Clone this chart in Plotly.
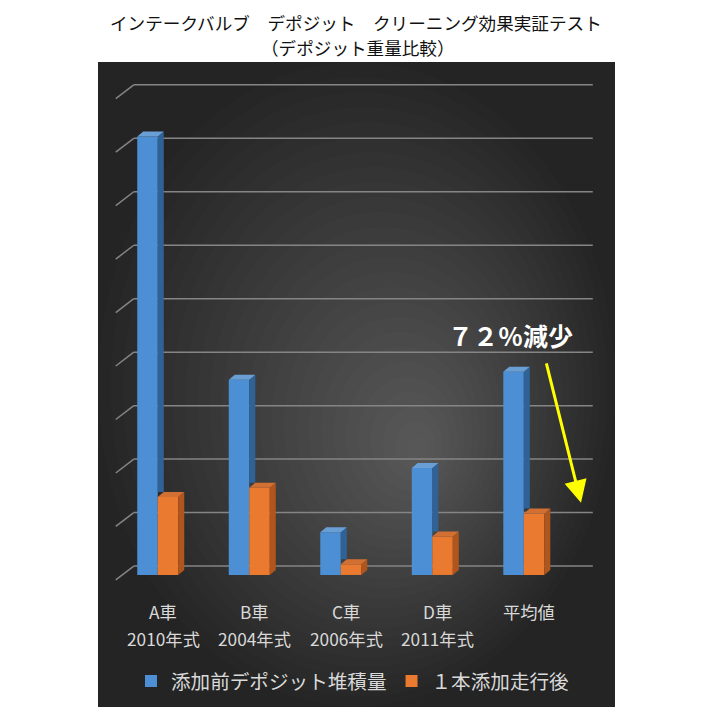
import plotly.graph_objects as go

# data
car_names = ["A車", "B車", "C車", "D車", "平均値"]
car_years = ["2010年式", "2004年式", "2006年式", "2011年式", ""]
before_vals = [8.2, 3.65, 0.8, 2.0, 3.8]
after_vals = [1.46, 1.63, 0.2, 0.72, 1.15]
grid_vals = list(range(10))

series_names = ["添加前デポジット堆積量", "１本添加走行後"]
title_lines = ["インテークバルブ　デポジット　クリーニング効果実証テスト", "（デポジット重量比較）"]
note_text = "７２％減少"

# page geometry (pixels); the page body adds an 8px margin around the figure
OFF = 8
FIG_W, FIG_H = 713 - OFF, 713 - OFF
M_L, M_T = 104, 59
PLOT_W, PLOT_H = 485, 529
M_R = FIG_W - M_L - PLOT_W
M_B = FIG_H - M_T - PLOT_H
X_RANGE = [-0.5, 4.8]
Y_RANGE = [-0.3, 9.5]
PX_X = PLOT_W / (X_RANGE[1] - X_RANGE[0])
PX_Y = PLOT_H / (Y_RANGE[1] - Y_RANGE[0])


def paper_x(px):
    return (px - OFF - M_L) / PLOT_W


def paper_y(py):
    return (FIG_H - M_B - (py - OFF)) / PLOT_H


BAR_W = 20.5 / PX_X
DEPTH_X = 6 / PX_X
DEPTH_Y = 5 / PX_Y

BLUE = {"front": "#4d8fd4", "side": "#2f6398", "top": "#6a9fd6"}
ORANGE = {"front": "#ea7a30", "side": "#b0561d", "top": "#d27034"}

fig = go.Figure()

xs = list(range(len(car_names)))

fig.add_trace(go.Bar(
    x=xs, y=before_vals, name=series_names[0], offset=-BAR_W, width=BAR_W,
    marker=dict(color=BLUE["front"], line=dict(width=0)), showlegend=True,
))
fig.add_trace(go.Bar(
    x=xs, y=after_vals, name=series_names[1], offset=0, width=BAR_W,
    marker=dict(color=ORANGE["front"], line=dict(width=0)), showlegend=True,
))


def add_face(px, py, color):
    fig.add_trace(go.Scatter(
        x=px, y=py, mode="lines", fill="toself", fillcolor=color,
        line=dict(width=0, color=color), hoverinfo="skip", showlegend=False,
    ))


# 3d sides and tops of the bars
for i, (vb, va) in enumerate(zip(before_vals, after_vals)):
    xl, xr = i - BAR_W, i
    low = va + DEPTH_Y
    add_face([xr, xr + DEPTH_X, xr + DEPTH_X, xr, xr],
             [low, low, vb + DEPTH_Y, vb, low], BLUE["side"])
    add_face([xl, xl + DEPTH_X, xr + DEPTH_X, xr, xl],
             [vb, vb + DEPTH_Y, vb + DEPTH_Y, vb, vb], BLUE["top"])
    xl, xr = i, i + BAR_W
    add_face([xr, xr + DEPTH_X, xr + DEPTH_X, xr, xr],
             [0, DEPTH_Y, va + DEPTH_Y, va, 0], ORANGE["side"])
    add_face([xl, xl + DEPTH_X, xr + DEPTH_X, xr, xl],
             [va, va + DEPTH_Y, va + DEPTH_Y, va, va], ORANGE["top"])

shapes = []
# dark panel with a soft radial glow
panel = (98, 62, 615, 713)
shapes.append(dict(type="rect", xref="paper", yref="paper", layer="below",
                   x0=paper_x(panel[0]), x1=paper_x(panel[2]),
                   y0=paper_y(panel[3]), y1=paper_y(panel[1]),
                   fillcolor="#242424", line=dict(width=0)))
rcx, rcy = (panel[0] + panel[2]) / 2, (panel[1] + panel[3]) / 2
tcx, tcy = 420, 455
ha, hb = (panel[2] - panel[0]) / 2, (panel[3] - panel[1]) / 2
n_glow = 26
for k in range(n_glow):
    f = k / n_glow
    cx = rcx + (tcx - rcx) * f
    cy = rcy + (tcy - rcy) * f
    a = ha * (1 - f)
    b = hb * (1 - f)
    shapes.append(dict(type="circle", xref="paper", yref="paper", layer="below",
                       x0=paper_x(cx - a), x1=paper_x(cx + a),
                       y0=paper_y(cy + b), y1=paper_y(cy - b),
                       fillcolor="rgba(255,255,255,0.011)", line=dict(width=0)))

# gridlines on the back wall, with the slanted floor edge at left
grid_front_x = -0.459
grid_back_x = -0.262
grid_right_x = 4.754
back_off = 9 / PX_Y
front_off = -5 / PX_Y
for v in grid_vals:
    shapes.append(dict(type="line", xref="x", yref="y", layer="below",
                       x0=grid_front_x, y0=v + front_off, x1=grid_back_x, y1=v + back_off,
                       line=dict(color="#858585", width=1.5)))
    shapes.append(dict(type="line", xref="x", yref="y", layer="below",
                       x0=grid_back_x, y0=v + back_off, x1=grid_right_x, y1=v + back_off,
                       line=dict(color="#858585", width=1.5)))

annotations = []
label_font = dict(size=17.3, color="#d9d9d9")
for i, (name, year) in enumerate(zip(car_names, car_years)):
    annotations.append(dict(x=i + 0.06, y=paper_y(617), xref="x", yref="paper",
                            xanchor="center", yanchor="middle",
                            text=name, showarrow=False, font=label_font))
    if year:
        annotations.append(dict(x=i + 0.06, y=paper_y(644), xref="x", yref="paper",
                                xanchor="center", yanchor="middle",
                                text=year, showarrow=False, font=label_font))

annotations.append(dict(x=paper_x(356), y=paper_y(22), xref="paper", yref="paper",
                        xanchor="center", yanchor="middle",
                        text=title_lines[0], showarrow=False,
                        font=dict(size=17.6, color="#111111")))
annotations.append(dict(x=paper_x(358), y=paper_y(47), xref="paper", yref="paper",
                        xanchor="center", yanchor="middle",
                        text=title_lines[1], showarrow=False,
                        font=dict(size=17.6, color="#111111")))

annotations.append(dict(x=paper_x(510), y=paper_y(338), xref="paper", yref="paper",
                        xanchor="center", yanchor="middle",
                        text="<b>" + note_text + "</b>", showarrow=False,
                        font=dict(size=25, color="#ffffff")))
annotations.append(dict(x=paper_x(581), y=paper_y(507), xref="paper", yref="paper",
                        ax=546 - 581, ay=366 - 507, axref="pixel", ayref="pixel",
                        text="", showarrow=True, arrowhead=2, arrowsize=1.5,
                        arrowwidth=3, arrowcolor="#ffff00"))

fig.update_layout(
    width=FIG_W, height=FIG_H, autosize=False,
    margin=dict(l=M_L, r=M_R, t=M_T, b=M_B, pad=0),
    paper_bgcolor="#ffffff", plot_bgcolor="rgba(0,0,0,0)",
    font=dict(family="Noto Sans CJK JP, Noto Sans, sans-serif"),
    barmode="overlay",
    shapes=shapes, annotations=annotations,
    showlegend=True,
    legend=dict(orientation="h", x=paper_x(353), xanchor="center",
                y=paper_y(687), yanchor="middle",
                font=dict(size=19.6, color="#d9d9d9"),
                bgcolor="rgba(0,0,0,0)", traceorder="normal",
                itemclick=False, itemdoubleclick=False),
)
fig.update_xaxes(range=X_RANGE, showgrid=False, zeroline=False, showticklabels=False,
                 showline=False, fixedrange=True)
fig.update_yaxes(range=Y_RANGE, showgrid=False, zeroline=False, showticklabels=False,
                 showline=False, fixedrange=True)

fig.write_html("out.html")
